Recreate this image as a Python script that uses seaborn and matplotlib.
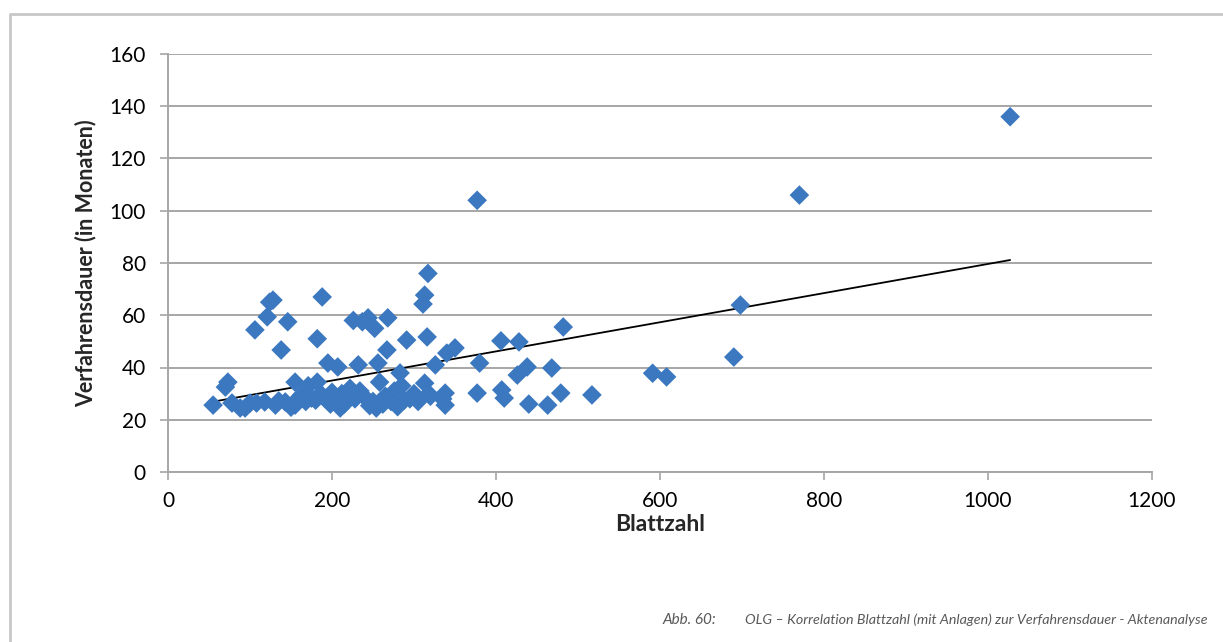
import matplotlib
matplotlib.use("Agg")
import matplotlib.pyplot as plt
import seaborn as sns
import pandas as pd
from matplotlib.lines import Line2D

blattzahl = [55, 70, 73, 78, 88, 94, 100, 106, 108, 118, 121, 124, 128, 131, 135, 138, 143, 146, 150,
             155, 155, 160, 163, 168, 171, 175, 180, 182, 182, 186, 188, 192, 195, 198, 200, 204, 207,
             210, 212, 215, 218, 222, 226, 228, 232, 234, 237, 240, 244, 246, 250, 252, 254, 256, 258,
             262, 265, 267, 268, 272, 276, 280, 283, 285, 288, 291, 295, 300, 305, 311, 313, 313, 316,
             317, 318, 320, 326, 335, 338, 338, 340, 350, 377, 377, 380, 406, 407, 410, 426, 428, 438,
             440, 463, 468, 479, 482, 517, 591, 608, 690, 698, 770, 1027]
dauer = [25.6, 32.5, 34.4, 26.4, 24.5, 24.5, 26.4, 54.4, 26.4, 26.8, 59.4, 65.0, 65.8, 25.6, 27.2, 46.7,
         26.8, 57.5, 24.8, 34.4, 25.6, 28.5, 29.5, 27.0, 33.0, 28.3, 27.5, 34.4, 51.0, 30.0, 67.0, 28.0,
         41.7, 26.0, 30.5, 27.5, 40.2, 24.5, 30.0, 26.0, 29.0, 32.0, 58.0, 28.0, 41.0, 31.0, 57.5, 28.6,
         59.0, 25.4, 27.0, 55.0, 24.5, 41.7, 34.4, 26.0, 29.0, 46.7, 59.0, 27.0, 31.0, 25.0, 37.9, 33.0,
         27.5, 50.5, 28.0, 30.0, 27.0, 64.3, 67.7, 34.0, 51.7, 76.0, 30.0, 29.0, 41.0, 28.0, 30.2, 25.6,
         45.5, 47.5, 104.0, 30.2, 41.7, 50.2, 31.4, 28.3, 37.1, 49.8, 40.2, 26.0, 25.6, 39.8, 30.2, 55.5,
         29.5, 37.8, 36.4, 44.0, 63.9, 106.0, 136.0]

x_ticks = [0, 200, 400, 600, 800, 1000, 1200]
y_ticks = [0, 20, 40, 60, 80, 100, 120, 140, 160]
x_label = "Blattzahl"
y_label = "Verfahrensdauer (in Monaten)"
caption_num = "Abb. 60:"
caption_text = "OLG – Korrelation Blattzahl (mit Anlagen) zur Verfahrensdauer - Aktenanalyse"

df = pd.DataFrame({"Blattzahl": blattzahl, "Dauer": dauer})

sns.set_theme(style="white")
plt.rcParams["font.family"] = ["Lato", "DejaVu Sans"]

W, H = 1223, 642
fig = plt.figure(figsize=(W / 100, H / 100), dpi=100)
ax = fig.add_axes([168 / W, 1 - 472 / H, (1152 - 168) / W, (472 - 54) / H])

grid_c = "#A6A6A6"
for yv in y_ticks:
    ax.axhline(yv, color=grid_c, lw=1.4, zorder=0)

sns.regplot(data=df, x="Blattzahl", y="Dauer", scatter=False, ci=None, truncate=True,
            line_kws={"color": "black", "lw": 1.3, "zorder": 2}, ax=ax)
sns.scatterplot(data=df, x="Blattzahl", y="Dauer", marker="D", s=100, color="#3C78BF",
                edgecolor="none", linewidth=0, zorder=3, ax=ax)

ax.set_xlim(0, 1200)
ax.set_ylim(0, 160)
ax.set_xticks(x_ticks)
ax.set_yticks(y_ticks)
ax.tick_params(axis="both", which="both", direction="out", length=6, width=1.2,
               color=grid_c, labelsize=15, labelcolor="black", left=True, bottom=True)
ax.tick_params(axis="y", pad=10)
ax.tick_params(axis="x", pad=8)
for s in ["top", "right"]:
    ax.spines[s].set_visible(False)
for s in ["left", "bottom"]:
    ax.spines[s].set_color(grid_c)
    ax.spines[s].set_linewidth(1.4)
ax.set_xlabel(x_label, fontsize=16.5, fontweight="bold", labelpad=2)
ax.set_ylabel(y_label, fontsize=15.5, fontweight="bold", labelpad=9)

# outer frame
fig.add_artist(Line2D([9.5 / W, 9.5 / W, 1.0], [0, 1 - 14 / H, 1 - 14 / H],
                      transform=fig.transFigure, color="#C8C8C8", lw=2))

fig.text(663 / W, 1 - 620 / H, caption_num, fontsize=11, style="italic",
         color="#595959", ha="left", va="center")
fig.text(1208 / W, 1 - 620 / H, caption_text, fontsize=10.3, style="italic",
         color="#595959", ha="right", va="center")

fig.savefig("out.png", dpi=100)
